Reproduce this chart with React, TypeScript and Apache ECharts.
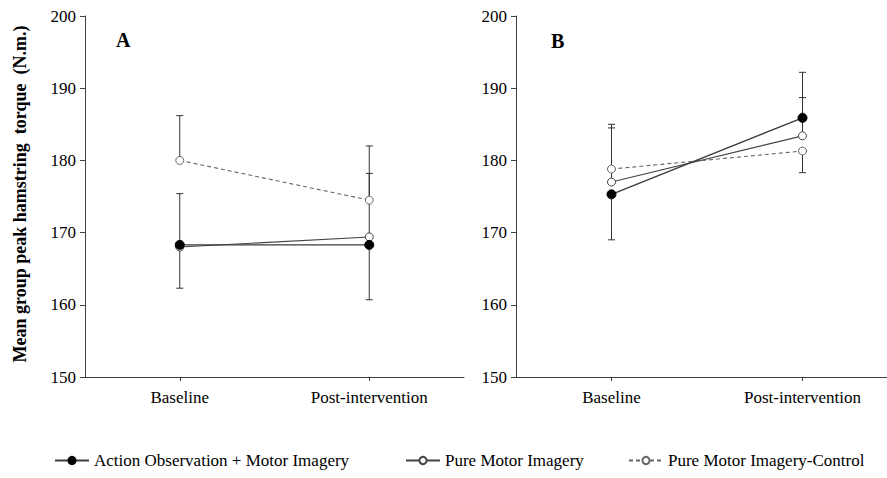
import React, { useEffect, useRef } from "react";
import * as echarts from "echarts";

const categories = ["Baseline", "Post-intervention"];
const yTicks = [150, 160, 170, 180, 190, 200];
const groupNames = [
  "Action Observation + Motor Imagery",
  "Pure Motor Imagery",
  "Pure Motor Imagery-Control",
];

// Panel A means
const aoA = [168.3, 168.3];
const pmiA = [168.0, 169.4];
const ctlA = [180.0, 174.5];
// Panel A error bars (plus / minus as drawn)
const aoPlusA = [7.1, 0];
const aoMinusA = [6.0, 7.6];
const pmiPlusA = [0, 8.8];
const pmiMinusA = [0, 0];
const ctlPlusA = [6.2, 7.5];
const ctlMinusA = [0, 0];

// Panel B means
const aoB = [175.3, 185.9];
const pmiB = [177.0, 183.4];
const ctlB = [178.8, 181.3];
// Panel B error bars
const aoPlusB = [0, 6.3];
const aoMinusB = [6.3, 0];
const pmiPlusB = [8.0, 5.3];
const pmiMinusB = [0, 0];
const ctlPlusB = [5.7, 0];
const ctlMinusB = [0, 3.0];

const FONT = "'Liberation Serif', 'Times New Roman', serif";

function buildErr(means: number[][], plus: number[][], minus: number[][]) {
  const out: number[][] = [];
  means.forEach((m, g) => {
    m.forEach((v, i) => {
      const p = plus[g][i];
      const n = minus[g][i];
      if (p > 0 || n > 0) {
        out.push([i, v - n, v + p, n > 0 ? 1 : 0, p > 0 ? 1 : 0]);
      }
    });
  });
  return out;
}

export default function App() {
  const ref = useRef<HTMLDivElement>(null);
  useEffect(() => {
    if (!ref.current) return;
    const chart = echarts.init(ref.current, undefined, { renderer: "svg" });

    const errA = buildErr(
      [aoA, pmiA, ctlA],
      [aoPlusA, pmiPlusA, ctlPlusA],
      [aoMinusA, pmiMinusA, ctlMinusA]
    );
    const errB = buildErr(
      [aoB, pmiB, ctlB],
      [aoPlusB, pmiPlusB, ctlPlusB],
      [aoMinusB, pmiMinusB, ctlMinusB]
    );

    const axisColor = "#404040";
    const xAxisBase = (gi: number) => ({
      type: "category",
      gridIndex: gi,
      data: categories,
      boundaryGap: true,
      axisLine: { show: true, lineStyle: { color: axisColor, width: 1 } },
      axisTick: { show: true, alignWithLabel: true, length: 4, inside: false, lineStyle: { color: axisColor } },
      axisLabel: { color: "#000", fontFamily: FONT, fontSize: 17, margin: 12 },
      splitLine: { show: false },
    });
    const yAxisBase = (gi: number) => ({
      type: "value",
      gridIndex: gi,
      min: yTicks[0],
      max: yTicks[yTicks.length - 1],
      interval: 10,
      axisLine: { show: true, lineStyle: { color: axisColor, width: 1 } },
      axisTick: { show: true, length: 5, lineStyle: { color: axisColor } },
      axisLabel: { color: "#000", fontFamily: FONT, fontSize: 17, margin: 9 },
      splitLine: { show: false },
    });

    const renderErr = (params: any, api: any) => {
      const x = api.value(0);
      const lo = api.coord([x, api.value(1)]);
      const hi = api.coord([x, api.value(2)]);
      const capW = 3.5;
      const style = { stroke: "#333", lineWidth: 1 };
      const children: any[] = [
        { type: "line", shape: { x1: lo[0], y1: lo[1], x2: hi[0], y2: hi[1] }, style },
      ];
      if (api.value(3)) {
        children.push({ type: "line", shape: { x1: lo[0] - capW, y1: lo[1], x2: lo[0] + capW, y2: lo[1] }, style });
      }
      if (api.value(4)) {
        children.push({ type: "line", shape: { x1: hi[0] - capW, y1: hi[1], x2: hi[0] + capW, y2: hi[1] }, style });
      }
      return { type: "group", children };
    };

    const lineSeries = (gi: number, ao: number[], pmi: number[], ctl: number[]) => [
      {
        name: groupNames[0],
        type: "line",
        xAxisIndex: gi,
        yAxisIndex: gi,
        data: ao,
        symbol: "circle",
        symbolSize: 9,
        z: 4,
        itemStyle: { color: "#000", borderColor: "#000", borderWidth: 1 },
        lineStyle: { color: "#3a3a3a", width: 1.3 },
      },
      {
        name: groupNames[1],
        type: "line",
        xAxisIndex: gi,
        yAxisIndex: gi,
        data: pmi,
        symbol: "circle",
        symbolSize: 8,
        z: 3,
        itemStyle: { color: "#fff", borderColor: "#444", borderWidth: 1 },
        lineStyle: { color: "#444", width: 1.1 },
      },
      {
        name: groupNames[2],
        type: "line",
        xAxisIndex: gi,
        yAxisIndex: gi,
        data: ctl,
        symbol: "circle",
        symbolSize: 8,
        z: 3,
        itemStyle: { color: "#fff", borderColor: "#666", borderWidth: 1 },
        lineStyle: { color: "#666", width: 1.1, type: [4, 3] },
      },
    ];

    const legendBase = (name: string, left: number) => ({
      data: [name],
      left,
      top: 452,
      itemWidth: 34,
      itemHeight: 9,
      itemGap: 0,
      padding: 0,
      textStyle: { color: "#000", fontFamily: FONT, fontSize: 17 },
    });

    chart.setOption({
      animation: false,
      backgroundColor: "#fff",
      grid: [
        { left: 85, top: 16, width: 379, height: 361 },
        { left: 516, top: 16, width: 382, height: 361 },
      ],
      xAxis: [xAxisBase(0), xAxisBase(1)],
      yAxis: [yAxisBase(0), yAxisBase(1)],
      legend: [
        legendBase(groupNames[0], 54),
        legendBase(groupNames[1], 405),
        legendBase(groupNames[2], 628),
      ],
      graphic: [
        {
          type: "text",
          x: 20,
          y: 194,
          rotation: Math.PI / 2,
          style: {
            text: "Mean group peak hamstring  torque  (N.m.)",
            font: `bold 18px ${FONT}`,
            fill: "#000",
            textAlign: "center",
            textVerticalAlign: "middle",
          },
        },
        {
          type: "text",
          left: 116,
          top: 30,
          style: { text: "A", font: `bold 20px ${FONT}`, fill: "#000" },
        },
        {
          type: "text",
          left: 551,
          top: 31,
          style: { text: "B", font: `bold 20px ${FONT}`, fill: "#000" },
        },
      ],
      series: [
        {
          type: "custom",
          xAxisIndex: 0,
          yAxisIndex: 0,
          data: errA,
          renderItem: renderErr,
          z: 1,
          silent: true,
        },
        {
          type: "custom",
          xAxisIndex: 1,
          yAxisIndex: 1,
          data: errB,
          renderItem: renderErr,
          z: 1,
          silent: true,
        },
        ...lineSeries(0, aoA, pmiA, ctlA),
        ...lineSeries(1, aoB, pmiB, ctlB),
      ],
    });
    return () => chart.dispose();
  }, []);
  return (
    <div
      style={{ position: "fixed", left: 0, top: 0, width: 887, height: 478, overflow: "hidden", background: "#fff" }}
    >
      <div ref={ref} style={{ width: 900, height: 478 }} />
    </div>
  );
}
